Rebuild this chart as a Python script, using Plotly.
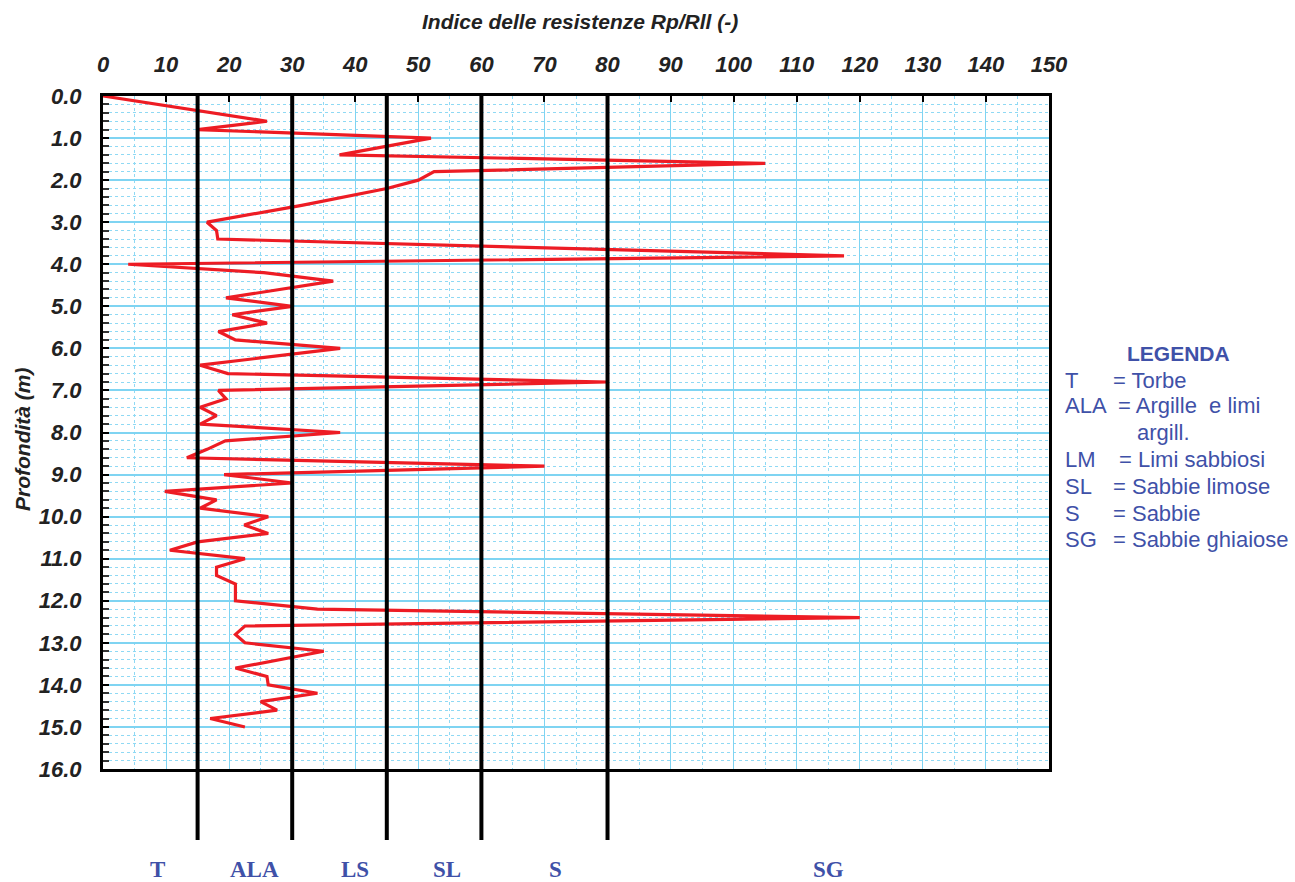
import plotly.graph_objects as go

# ---- data ----
depth = [0.0, 0.6, 0.8, 1.0, 1.4, 1.6, 1.8, 2.0, 2.2, 2.4, 2.6, 3.0, 3.2, 3.4, 3.8,
         4.0, 4.2, 4.4, 4.8, 5.0, 5.2, 5.4, 5.6, 5.8, 6.0, 6.4, 6.6, 6.8, 7.0, 7.2,
         7.4, 7.6, 7.8, 8.0, 8.2, 8.4, 8.6, 8.8, 9.0, 9.2, 9.4, 9.6, 9.8, 10.0, 10.2,
         10.4, 10.6, 10.8, 11.0, 11.2, 11.4, 11.6, 12.0, 12.2, 12.4, 12.6, 12.8, 13.0,
         13.2, 13.6, 13.8, 14.0, 14.2, 14.4, 14.6, 14.8, 15.0]
ratio = [0, 26, 15, 52, 37.5, 105, 52.5, 50, 45, 38, 31.5, 16.5, 18, 18.2, 117.5,
         4, 25.5, 36.5, 19.5, 30, 20.5, 26, 18.3, 21, 37.6, 15.4, 19.8, 80, 18.3, 19.5,
         15.4, 18, 15.4, 37.6, 19.4, 16.5, 13.3, 70, 19.2, 30, 9.8, 18, 15.4, 26.2, 22.4,
         26.2, 15, 10.6, 22.5, 18, 18, 21, 21, 34, 120, 22.5, 21, 22.5,
         35, 21, 26, 26.2, 34, 25, 27.6, 17, 22.5]

class_bounds = [15, 30, 45, 60, 80]
class_labels = ["T", "ALA", "LS", "SL", "S", "SG"]
class_label_x = [8.7, 24, 40, 54.6, 71.7, 115]

legend_title = "LEGENDA"
legend_codes = ["T", "ALA", "", "LM", "SL", "S", "SG"]
legend_texts = ["= Torbe", "= Argille  e limi", "argill.", "= Limi sabbiosi",
                "= Sabbie limose", "= Sabbie", "= Sabbie ghiaiose"]

x_ticks = list(range(0, 151, 10))
y_ticks = list(range(0, 17))

# ---- layout geometry ----
W, H = 1295, 882
L, R, T, B = 103, 1049, 96, 769
PW, PH = R - L, B - T

def px(xp):
    return (xp - L) / PW

def py(yp):
    return 1 - (yp - T) / PH

BLUE = "#3F51A8"
GRID = "#7fd4f2"
GRID_MINOR = "#8fd9f4"

fig = go.Figure()
fig.add_trace(go.Scatter(x=ratio, y=depth, mode="lines",
                         line=dict(color="#ED1C24", width=3.2), showlegend=False,
                         hoverinfo="skip"))

shapes = []
for xb in class_bounds:
    shapes.append(dict(type="line", xref="x", yref="paper", x0=xb, x1=xb,
                       y0=1, y1=py(840), line=dict(color="black", width=4),
                       layer="above"))

annotations = []
for lab, xl in zip(class_labels, class_label_x):
    annotations.append(dict(text=lab, x=xl, y=py(870), xref="x", yref="paper",
                            showarrow=False, xanchor="center", yanchor="middle",
                            font=dict(family="Liberation Serif", size=23,
                                      color=BLUE, weight="bold")))

leg_font = dict(family="Liberation Sans", size=22, color=BLUE)
annotations.append(dict(text="<b>LEGENDA</b>", x=px(1178), y=py(353), xref="paper",
                        yref="paper", showarrow=False, xanchor="center",
                        yanchor="middle",
                        font=dict(family="Liberation Sans", size=21, color=BLUE)))
rows_y = [380, 406, 432, 459, 486, 513, 539]
eq_x = [1111, 1116, 1135, 1117, 1111, 1111, 1111]
for code, txt, yy, ex in zip(legend_codes, legend_texts, rows_y, eq_x):
    if code:
        annotations.append(dict(text=code, x=px(1063), y=py(yy), xref="paper",
                                yref="paper", showarrow=False, xanchor="left",
                                yanchor="middle", font=leg_font))
    annotations.append(dict(text=txt, x=px(ex), y=py(yy), xref="paper",
                            yref="paper", showarrow=False, xanchor="left",
                            yanchor="middle", font=leg_font))

# axis titles
annotations.append(dict(text="<b><i>Indice delle resistenze Rp/Rll (-)</i></b>",
                        x=px(580), y=py(22), xref="paper", yref="paper",
                        showarrow=False, xanchor="center", yanchor="middle",
                        font=dict(family="Liberation Sans", size=21, color="#222222")))
annotations.append(dict(text="<b><i>Profondità (m)</i></b>", textangle=-90,
                        x=px(22), y=py(440), xref="paper", yref="paper",
                        showarrow=False, xanchor="center", yanchor="middle",
                        font=dict(family="Liberation Sans", size=21, color="#222222")))

fig.update_layout(
    width=W, height=H,
    margin=dict(l=L, r=W - R, t=T, b=H - B, pad=0),
    paper_bgcolor="white", plot_bgcolor="white",
    shapes=shapes, annotations=annotations, showlegend=False,
    xaxis=dict(side="top", range=[0, 150], tickmode="array", tickvals=x_ticks,
               ticktext=[f"<b><i>{v}</i></b>" for v in x_ticks],
               tickfont=dict(family="Liberation Sans", size=22, color="#222222"),
               showgrid=True, gridcolor=GRID, gridwidth=1.2,
               minor=dict(dtick=5, tick0=0, showgrid=True, gridcolor=GRID_MINOR,
                          griddash="dot", gridwidth=1),
               ticks="inside", ticklen=6, tickcolor="black", tickwidth=2,
               ticklabelstandoff=12,
               showline=True, linecolor="black", linewidth=3, mirror=True,
               zeroline=False, fixedrange=True),
    yaxis=dict(range=[16, 0], tickmode="array", tickvals=y_ticks,
               ticktext=[f"<b><i>{v:.1f}</i></b>" for v in y_ticks],
               tickfont=dict(family="Liberation Sans", size=22, color="#222222"),
               showgrid=True, gridcolor=GRID, gridwidth=1.5,
               minor=dict(dtick=0.2, tick0=0, showgrid=True, gridcolor=GRID_MINOR,
                          griddash="dot", gridwidth=1, ticks="inside",
                          ticklen=6, tickcolor="#333333", tickwidth=2),
               ticks="inside", ticklen=6, tickcolor="black", tickwidth=2,
               ticklabelstandoff=14,
               showline=True, linecolor="black", linewidth=3, mirror=True,
               zeroline=False, fixedrange=True),
)

fig.write_html("out.html")
